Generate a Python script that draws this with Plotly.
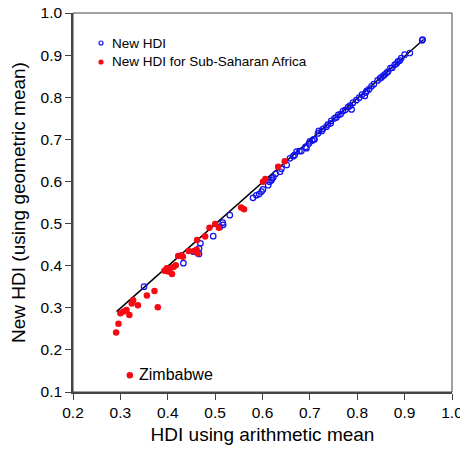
import plotly.graph_objects as go

# Sub-Saharan Africa (red filled)
ssa_x = [0.291, 0.296, 0.300, 0.307, 0.313, 0.319, 0.324, 0.327, 0.337, 0.356, 0.372, 0.379,
         0.393, 0.398, 0.401, 0.405, 0.409, 0.412, 0.417, 0.422, 0.429, 0.432, 0.444, 0.456,
         0.461, 0.462, 0.463, 0.479, 0.488, 0.500, 0.508, 0.555, 0.561, 0.601, 0.606, 0.633, 0.647]
ssa_y = [0.241, 0.262, 0.287, 0.291, 0.295, 0.283, 0.310, 0.318, 0.306, 0.329, 0.340, 0.301,
         0.388, 0.394, 0.386, 0.394, 0.380, 0.397, 0.401, 0.423, 0.425, 0.421, 0.435, 0.435,
         0.438, 0.461, 0.429, 0.469, 0.490, 0.499, 0.490, 0.538, 0.534, 0.599, 0.606, 0.635, 0.648]

# Other countries (blue open)
hdi_x = [0.350, 0.433, 0.454, 0.466, 0.469, 0.466, 0.496, 0.510, 0.516, 0.517, 0.531,
         0.580, 0.587, 0.593, 0.598, 0.601, 0.612, 0.615, 0.619, 0.623, 0.628, 0.637, 0.651,
         0.658, 0.668, 0.672, 0.682, 0.691, 0.693, 0.705, 0.710, 0.717, 0.719, 0.728, 0.735,
         0.738, 0.745, 0.752, 0.760, 0.770, 0.781, 0.788, 0.791, 0.798, 0.804, 0.816, 0.818,
         0.825, 0.830, 0.843, 0.851, 0.858, 0.865, 0.870, 0.879, 0.886, 0.893, 0.900, 0.911,
         0.937, 0.938, 0.700, 0.708, 0.725, 0.756, 0.775, 0.810, 0.848, 0.862, 0.874, 0.883,
         0.890, 0.620, 0.640, 0.665, 0.678, 0.698, 0.744, 0.765, 0.785, 0.820, 0.835, 0.855]
hdi_y = [0.350, 0.406, 0.433, 0.441, 0.453, 0.428, 0.470, 0.492, 0.502, 0.497, 0.520,
         0.561, 0.567, 0.570, 0.576, 0.581, 0.591, 0.599, 0.603, 0.610, 0.618, 0.623, 0.639,
         0.655, 0.663, 0.671, 0.672, 0.682, 0.679, 0.697, 0.700, 0.714, 0.720, 0.725, 0.730,
         0.735, 0.744, 0.750, 0.758, 0.767, 0.777, 0.771, 0.787, 0.793, 0.799, 0.803, 0.811,
         0.819, 0.826, 0.840, 0.847, 0.854, 0.861, 0.869, 0.877, 0.885, 0.893, 0.901, 0.905,
         0.935, 0.937, 0.695, 0.700, 0.720, 0.752, 0.770, 0.806, 0.845, 0.858, 0.870, 0.880,
         0.887, 0.607, 0.630, 0.660, 0.672, 0.690, 0.738, 0.760, 0.780, 0.815, 0.831, 0.851]

# Zimbabwe outlier
zim_x = [0.320]
zim_y = [0.140]
zim_label = "Zimbabwe"

# Fit line
line_x = [0.292, 0.940]
line_y = [0.291, 0.937]

x_ticks = [0.2, 0.3, 0.4, 0.5, 0.6, 0.7, 0.8, 0.9, 1.0]
y_ticks = [0.1, 0.2, 0.3, 0.4, 0.5, 0.6, 0.7, 0.8, 0.9, 1.0]

legend_labels = ["New HDI", "New HDI for Sub-Saharan Africa"]

FONT = "Liberation Sans, Arial, sans-serif"
RED = "#f50a14"
BLUE = "#1010f0"
AX = "#444"

fig = go.Figure()
fig.add_trace(go.Scatter(x=line_x, y=line_y, mode="lines", line=dict(color="black", width=1.5),
                         showlegend=False, hoverinfo="skip"))
fig.add_trace(go.Scatter(x=hdi_x, y=hdi_y, mode="markers", name=legend_labels[0],
                         marker=dict(symbol="circle-open", size=5.5, color=BLUE, line=dict(width=1.2))))
fig.add_trace(go.Scatter(x=ssa_x, y=ssa_y, mode="markers", name=legend_labels[1],
                         marker=dict(symbol="circle", size=6.5, color=RED)))
fig.add_trace(go.Scatter(x=zim_x, y=zim_y, mode="markers",
                         marker=dict(symbol="circle", size=6.5, color=RED), showlegend=False))
fig.add_annotation(x=zim_x[0], y=zim_y[0], text=zim_label, showarrow=False, xanchor="left",
                   yanchor="middle", xshift=7, yshift=1, font=dict(size=16, color="black", family=FONT))

# custom legend (marker shapes + text)
lx = (101 - 73) / 379
for i, (lab, col, filled) in enumerate([(legend_labels[0], BLUE, False), (legend_labels[1], RED, True)]):
    ly = 1 - ((43 + 19 * i) - 13) / 379
    fig.add_shape(type="circle", xref="paper", yref="paper", xsizemode="pixel", ysizemode="pixel",
                  xanchor=lx, yanchor=ly, x0=-2, x1=2, y0=-2, y1=2,
                  line=dict(color=col, width=1.2), fillcolor=col if filled else "rgba(0,0,0,0)")
    fig.add_annotation(xref="paper", yref="paper", x=(110 - 73) / 379, y=ly, text=lab, showarrow=False,
                       xanchor="left", yanchor="middle", font=dict(size=13.5, color="black", family=FONT))

fig.update_layout(
    width=460, height=451,
    margin=dict(l=73, r=8, t=13, b=59, autoexpand=False),
    paper_bgcolor="white", plot_bgcolor="white",
    font=dict(family=FONT, color="black"),
    showlegend=False,
)
fig.update_xaxes(range=[0.2, 1.0], tickvals=x_ticks, ticktext=[f"{v:.1f}" for v in x_ticks],
                 showgrid=False, zeroline=False, showline=True, linecolor=AX, linewidth=1.6,
                 ticks="outside", ticklen=6, tickwidth=1.4, tickcolor=AX, ticklabeloverflow="allow",
                 automargin=False,
                 tickfont=dict(size=15.5), title=dict(text="HDI using arithmetic mean", font=dict(size=19),
                                                       standoff=7))
fig.update_yaxes(range=[0.1, 1.0], tickvals=y_ticks, ticktext=[f"{v:.1f}" for v in y_ticks],
                 showgrid=False, zeroline=False, showline=True, linecolor=AX, linewidth=1.6,
                 ticks="outside", ticklen=6, tickwidth=1.4, tickcolor=AX, ticklabeloverflow="allow",
                 automargin=False,
                 tickfont=dict(size=15.5), title=dict(text="New HDI (using geometric mean)", font=dict(size=19),
                                                       standoff=10))
fig.add_shape(type="rect", xref="paper", yref="paper", x0=0, y0=0, x1=1, y1=1,
              line=dict(color=AX, width=1))
fig.write_html("out.html")
